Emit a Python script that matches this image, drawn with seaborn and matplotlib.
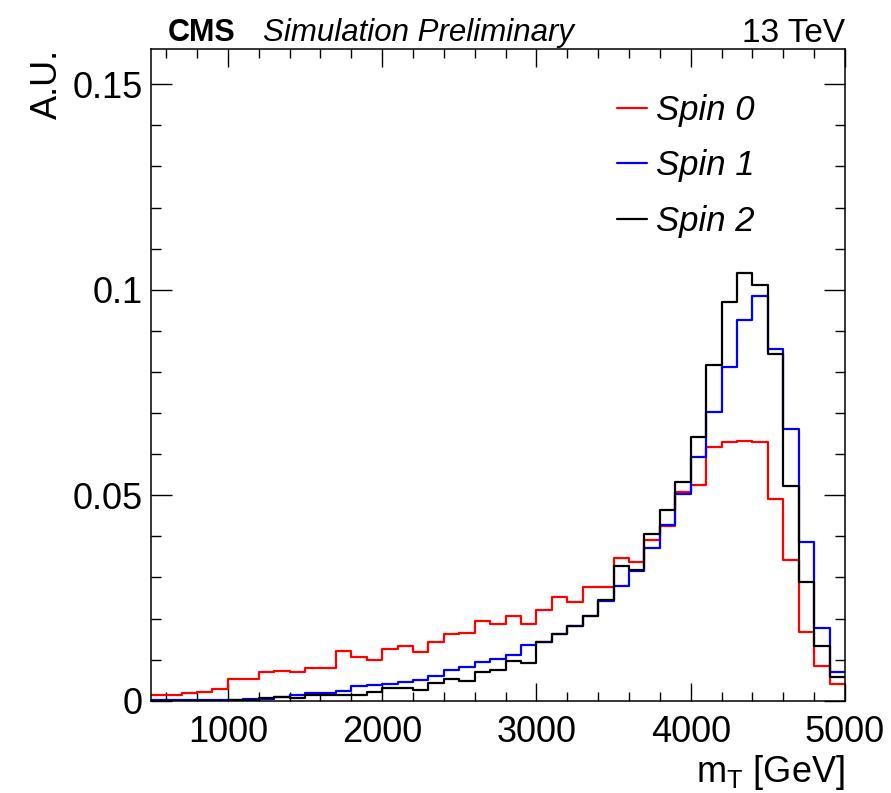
import numpy as np
import pandas as pd
import seaborn as sns
import matplotlib
matplotlib.use('Agg')
import matplotlib.pyplot as plt
from matplotlib.ticker import MultipleLocator, FuncFormatter

# binning: 45 bins of 100 GeV between 500 and 5000
bin_edges = list(range(500, 5001, 100))
bin_centers = [e + 50 for e in bin_edges[:-1]]

spin0 = [0.0014, 0.0014, 0.0018, 0.0020, 0.0028, 0.0052, 0.0052, 0.0071, 0.0072, 0.0070,
         0.0080, 0.0080, 0.0122, 0.0106, 0.0098, 0.0126, 0.0134, 0.0119, 0.0144, 0.0162,
         0.0164, 0.0194, 0.0187, 0.0207, 0.0187, 0.0221, 0.0252, 0.0240, 0.0276, 0.0276,
         0.0347, 0.0338, 0.0390, 0.0425, 0.0508, 0.0524, 0.0617, 0.0629, 0.0633, 0.0629,
         0.0490, 0.0343, 0.0167, 0.0085, 0.0040]
spin1 = [0.0001, 0.0001, 0.0001, 0.0001, 0.0001, 0.0002, 0.0003, 0.0005, 0.0009, 0.0014,
         0.0018, 0.0018, 0.0024, 0.0036, 0.0039, 0.0040, 0.0046, 0.0051, 0.0060, 0.0074,
         0.0082, 0.0093, 0.0102, 0.0110, 0.0136, 0.0144, 0.0163, 0.0182, 0.0207, 0.0242,
         0.0280, 0.0316, 0.0371, 0.0428, 0.0502, 0.0594, 0.0703, 0.0813, 0.0927, 0.0985,
         0.0856, 0.0660, 0.0387, 0.0177, 0.0069]
spin2 = [0.0000, 0.0000, 0.0000, 0.0000, 0.0000, 0.0001, 0.0002, 0.0007, 0.0008, 0.0006,
         0.0013, 0.0014, 0.0015, 0.0013, 0.0022, 0.0030, 0.0032, 0.0027, 0.0044, 0.0054,
         0.0047, 0.0070, 0.0075, 0.0097, 0.0092, 0.0144, 0.0163, 0.0182, 0.0207, 0.0244,
         0.0328, 0.0318, 0.0406, 0.0463, 0.0532, 0.0641, 0.0817, 0.0969, 0.1040, 0.1012,
         0.0844, 0.0522, 0.0288, 0.0133, 0.0058]

samples = [('Spin 0', spin0, '#ff0000'), ('Spin 1', spin1, '#0000ff'), ('Spin 2', spin2, '#000000')]

sns.set_style('ticks')
plt.rcParams['font.family'] = ['Liberation Sans', 'DejaVu Sans']
plt.rcParams['mathtext.fontset'] = 'custom'
plt.rcParams['mathtext.rm'] = 'Liberation Sans'
plt.rcParams['mathtext.default'] = 'regular'
plt.rcParams['text.color'] = 'black'
plt.rcParams['axes.labelcolor'] = 'black'
plt.rcParams['xtick.color'] = 'black'
plt.rcParams['ytick.color'] = 'black'

fig = plt.figure(figsize=(8.91, 7.93), dpi=100)
ax = fig.add_axes([0.1691, 0.1164, 0.7793, 0.8214])

for name, vals, col in samples:
    df = pd.DataFrame({'mT': bin_centers, 'w': vals})
    sns.histplot(data=df, x='mT', weights='w', bins=bin_edges, element='step', fill=False,
                 color=col, linewidth=1.6, label=name, ax=ax)

ax.set_xlim(500, 5000)
ax.set_ylim(0, 0.1585)
ax.xaxis.set_major_locator(MultipleLocator(1000))
ax.xaxis.set_minor_locator(MultipleLocator(200))
ax.yaxis.set_major_locator(MultipleLocator(0.05))
ax.yaxis.set_minor_locator(MultipleLocator(0.01))
ax.yaxis.set_major_formatter(FuncFormatter(lambda v, p: f'{v:g}'))

ax.tick_params(which='both', direction='in', top=True, right=True, width=1.0,
               colors='black', labelcolor='black')
ax.tick_params(axis='x', which='major', length=13, labelsize=26, pad=10)
ax.tick_params(axis='x', which='minor', length=6.5)
ax.tick_params(axis='y', which='major', length=15, labelsize=26, pad=5.5)
ax.tick_params(axis='y', which='minor', length=7.5)
for s in ax.spines.values():
    s.set_linewidth(1.1)
    s.set_color('black')

ax.set_xlabel(r'm$_{\mathrm{T}}$ [GeV]', fontsize=26, ha='right', color='black')
ax.xaxis.set_label_coords(1.0, -0.111)
ax.xaxis.label.set_va('center')
ax.set_ylabel('A.U.', fontsize=26, ha='right', color='black')
ax.yaxis.set_label_coords(-0.149, 1.0)
ax.yaxis.label.set_va('center')

ax.text(0.025, 1.013, 'CMS', transform=ax.transAxes, fontsize=22, fontweight='bold',
        va='baseline', color='black')
ax.text(0.162, 1.013, 'Simulation Preliminary', transform=ax.transAxes, fontsize=22.5,
        style='italic', va='baseline', color='black')
ax.text(1.0, 1.011, '13 TeV', transform=ax.transAxes, fontsize=24, ha='right',
        va='baseline', color='black')

leg = ax.legend(loc='upper left', bbox_to_anchor=(0.672, 0.931), frameon=False, borderpad=0,
                borderaxespad=0, handlelength=0.86, handletextpad=0.26, labelspacing=0.64,
                prop={'size': 25, 'style': 'italic', 'family': 'Liberation Sans'})
for t in leg.get_texts():
    t.set_color('black')

fig.savefig('out.png', dpi=100, facecolor='white')
